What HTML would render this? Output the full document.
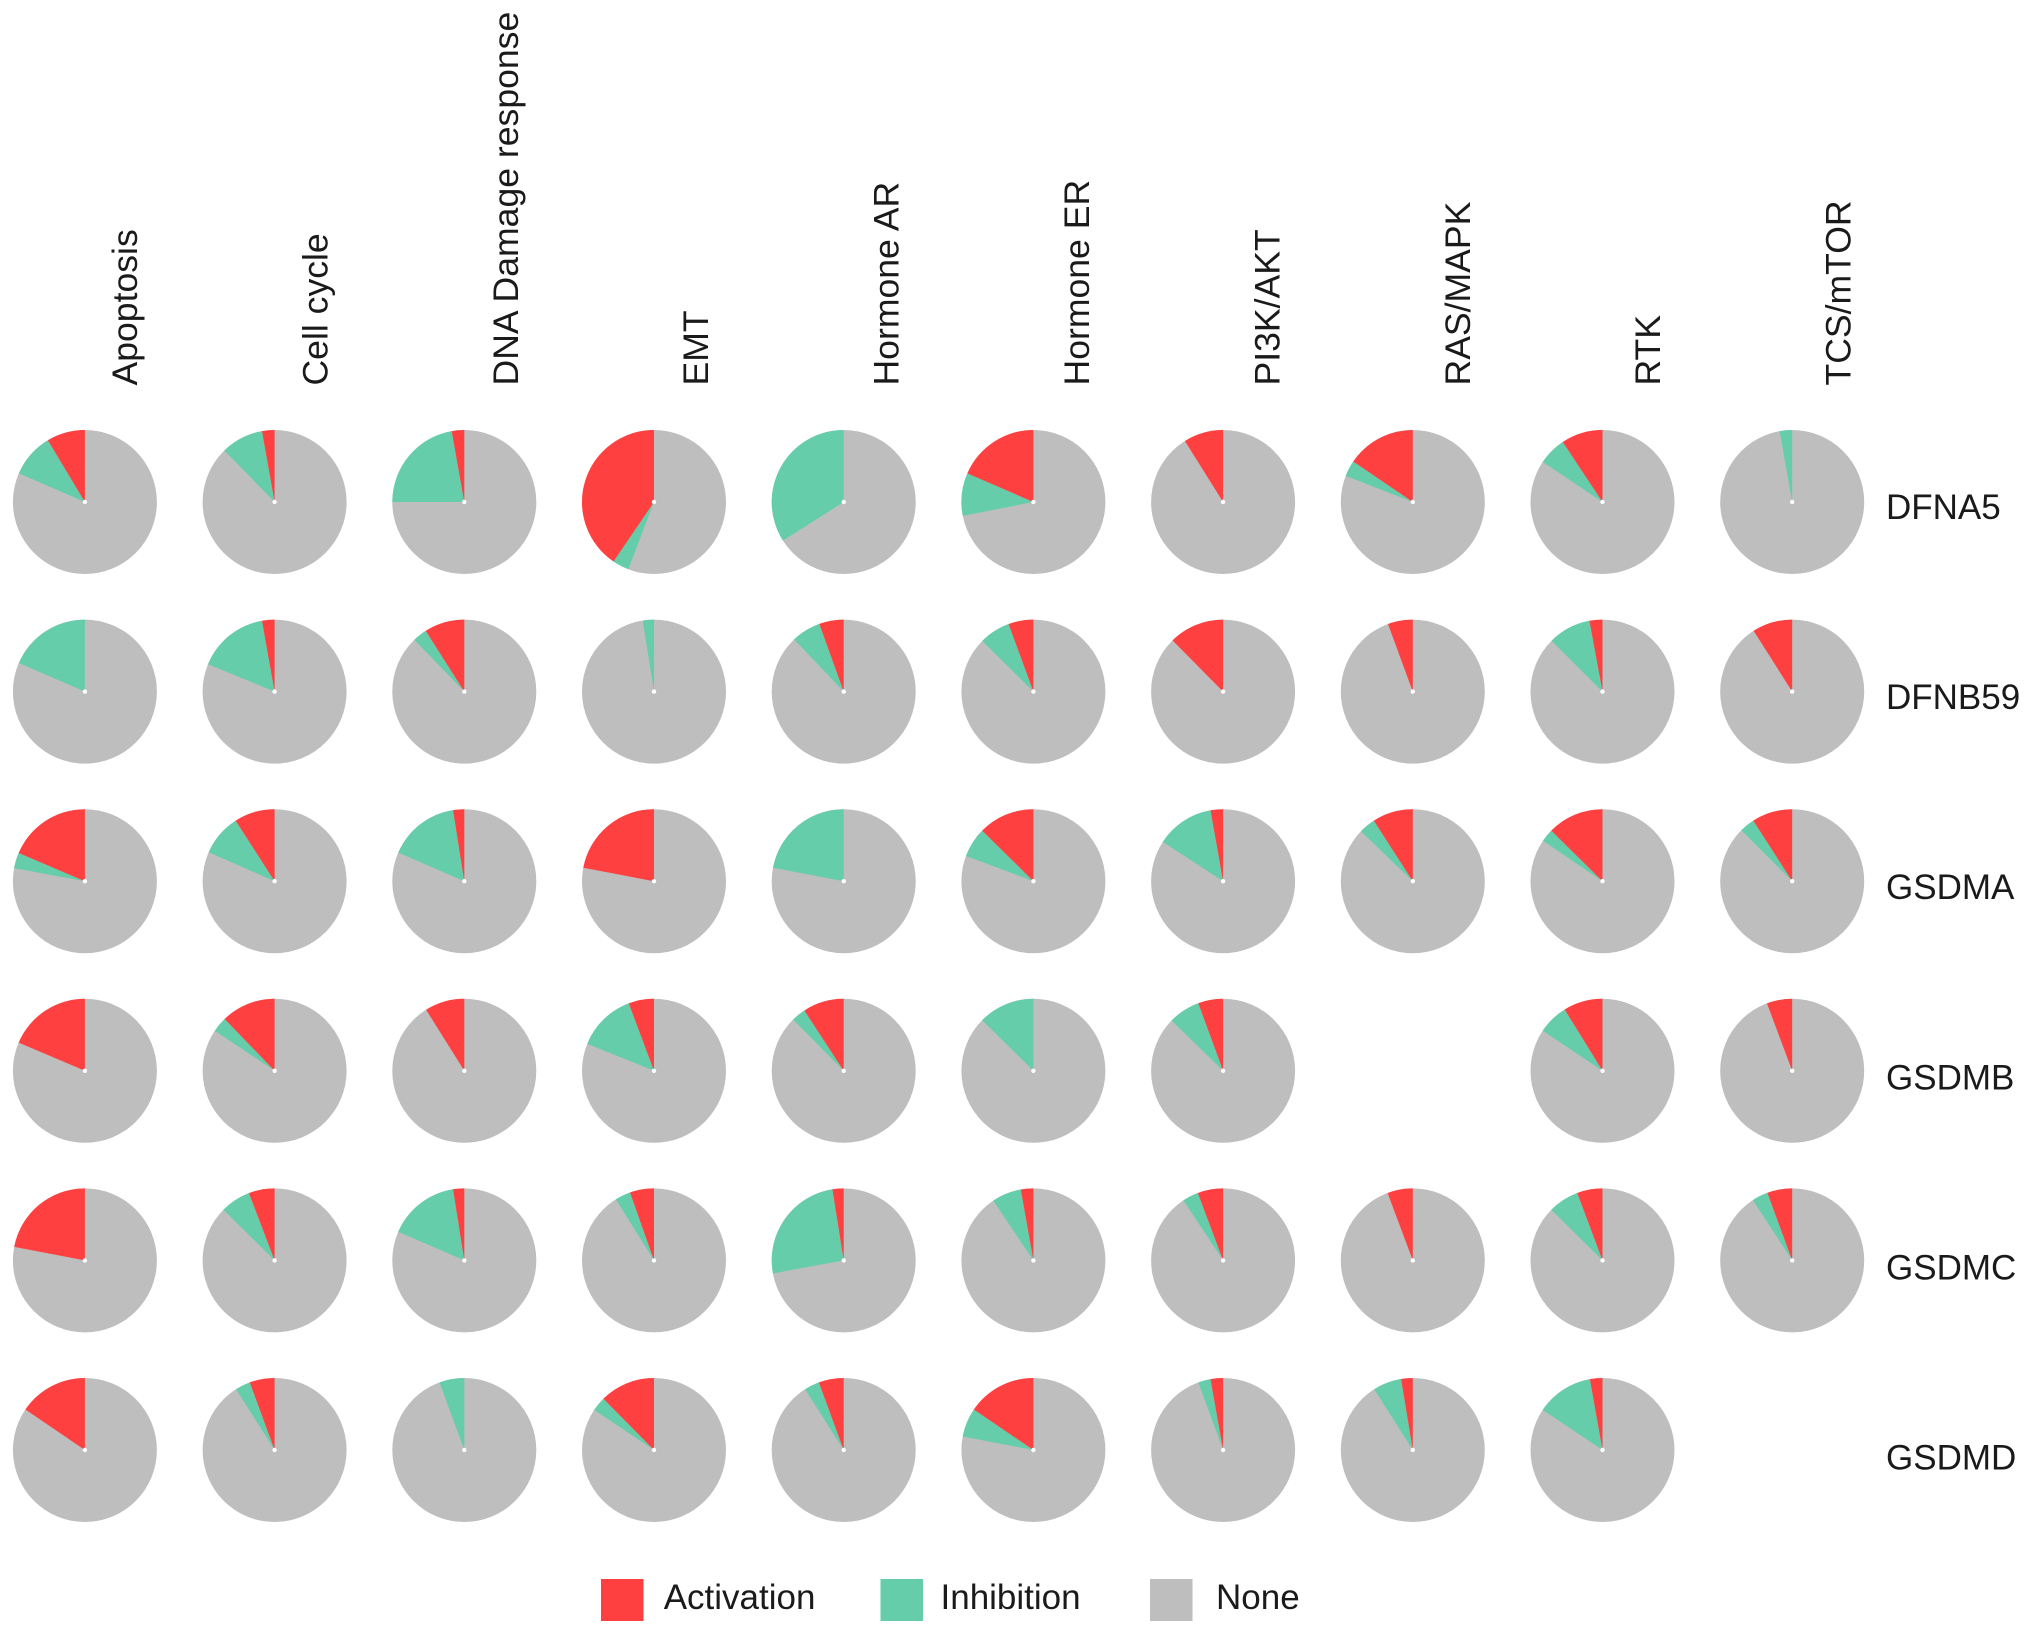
<!DOCTYPE html>
<html lang="en">
<head>
<meta charset="utf-8">
<title>Pathway activity pie matrix</title>
<style>
  html, body { margin: 0; padding: 0; background: #ffffff; }
  #chart { display: block; }
  text { font-family: "Liberation Sans", Arial, sans-serif; fill: #1a1a1a; }
</style>
</head>
<body>
<svg id="chart" xmlns="http://www.w3.org/2000/svg" width="2032" height="1639" viewBox="0 0 2032 1639">
  <rect x="0" y="0" width="2032" height="1639" fill="#ffffff"></rect>
  <g id="column-labels"></g>
  <g id="row-labels"></g>
  <g id="pies"></g>
  <g id="legend"></g>
</svg>
<script>
// Categories
const pathways = ["Apoptosis", "Cell cycle", "DNA Damage response", "EMT", "Hormone AR", "Hormone ER", "PI3K/AKT", "RAS/MAPK", "RTK", "TCS/mTOR"];
const genes = ["DFNA5", "DFNB59", "GSDMA", "GSDMB", "GSDMC", "GSDMD"];
const legendLabels = ["Activation", "Inhibition", "None"];

// Percent of genes per gene × pathway; null marks a combination with no pie
const activation = [
  [8.6, 2.8, 2.8, 40.5, 0, 18.5, 8.9, 15.5, 9.3, 0],
  [0, 2.8, 9, 0, 5.5, 5.6, 12.4, 5.6, 2.9, 9],
  [18.6, 9.1, 2.5, 22, 0, 12.6, 2.8, 9.1, 12.6, 9.1],
  [18.6, 12.2, 8.9, 5.7, 9.2, 0, 5.6, null, 8.8, 5.7],
  [22, 5.8, 2.5, 5.4, 2.5, 2.8, 5.7, 5.7, 5.7, 5.6],
  [15.5, 5.6, 0, 12.4, 5.6, 15.5, 2.8, 2.6, 2.8, null]
];
const inhibition = [
  [9.9, 9.5, 22.2, 3.7, 34, 9.6, 0, 3.6, 6.3, 2.8],
  [18.5, 16, 3.2, 2.5, 6.6, 7, 0, 0, 9.6, 0],
  [3.5, 9.3, 16, 0, 22, 6.7, 13, 3.7, 2.9, 3.4],
  [0, 3.4, 0, 13.2, 3.2, 12.6, 7.1, null, 6.8, 0],
  [0, 6.8, 16, 3.5, 25.4, 6.6, 3.6, 0, 6.9, 3.6],
  [0, 3.4, 5.6, 3.2, 3.4, 6.5, 2.8, 6.4, 12.8, null]
];

// Styling and layout
const SVG_NS = "http://www.w3.org/2000/svg";
const COLORS = { activation: "#FF4040", inhibition: "#66CDAA", none: "#BEBEBE" };
const PIE_RADIUS = 72;
const HOLE_RADIUS = 2.2;
const FONT_SIZE = 35;
const COLUMN_FONT_SIZE = 35.6;

function xScale(col) { return 84.9 + col * 189.7; }
function yScale(row) { return 502 + row * 189.6; }
function labelX(col) { return 137 + col * 190.4; }
function rowLabelY(row) { return 519 + row * 190.1; }
function angleScale(percent) { return percent / 100 * 2 * Math.PI; }

function make(tag, attrs) {
  const el = document.createElementNS(SVG_NS, tag);
  for (const key in attrs) el.setAttribute(key, attrs[key]);
  return el;
}

// Wedge running counter-clockwise from `startPct` to `endPct`, measured from 12 o'clock
function wedgePath(cx, cy, r, startPct, endPct) {
  const a0 = angleScale(startPct);
  const a1 = angleScale(endPct);
  const x0 = cx - r * Math.sin(a0);
  const y0 = cy - r * Math.cos(a0);
  const x1 = cx - r * Math.sin(a1);
  const y1 = cy - r * Math.cos(a1);
  const large = endPct - startPct > 50 ? 1 : 0;
  return "M" + cx + " " + cy + "L" + x0 + " " + y0 + "A" + r + " " + r + " 0 " + large + " 0 " + x1 + " " + y1 + "Z";
}

const pieLayer = document.getElementById("pies");
genes.forEach(function (gene, row) {
  pathways.forEach(function (pathway, col) {
    const act = activation[row][col];
    const inh = inhibition[row][col];
    if (act === null || inh === null) return;
    const cx = xScale(col);
    const cy = yScale(row);

    const group = make("g", {});
    
    

    const noneSlice = make("circle", { cx: cx, cy: cy, r: PIE_RADIUS, fill: COLORS.none });
    
    
    group.appendChild(noneSlice);

    if (inh > 0) {
      const inhSlice = make("path", { d: wedgePath(cx, cy, PIE_RADIUS, act, act + inh), fill: COLORS.inhibition });
      
      
      group.appendChild(inhSlice);
    }
    if (act > 0) {
      const actSlice = make("path", { d: wedgePath(cx, cy, PIE_RADIUS, 0, act), fill: COLORS.activation });
      
      
      group.appendChild(actSlice);
    }

    const hole = make("circle", { cx: cx, cy: cy, r: HOLE_RADIUS, fill: "#ffffff" });
    
    
    group.appendChild(hole);

    pieLayer.appendChild(group);
  });
});

const columnLayer = document.getElementById("column-labels");
pathways.forEach(function (pathway, col) {
  const x = labelX(col);
  const label = make("text", { x: x, y: 385.5, "font-size": COLUMN_FONT_SIZE, transform: "rotate(-90 " + x + " 385.5)" });
  
  
  label.textContent = pathway;
  columnLayer.appendChild(label);
});

const rowLayer = document.getElementById("row-labels");
genes.forEach(function (gene, row) {
  const label = make("text", { x: 1886, y: rowLabelY(row), "font-size": FONT_SIZE });
  
  
  label.textContent = gene;
  rowLayer.appendChild(label);
});

const legendLayer = document.getElementById("legend");
const legendColors = [COLORS.activation, COLORS.inhibition, COLORS.none];
const legendSwatchX = [601, 880.5, 1150];
const legendTextX = [663.7, 940.5, 1216];
legendLabels.forEach(function (name, i) {
  const entry = make("g", {});
  
  

  const swatch = make("rect", { x: legendSwatchX[i], y: 1579, width: 42.5, height: 42, fill: legendColors[i] });
  
  
  entry.appendChild(swatch);

  const text = make("text", { x: legendTextX[i], y: 1609, "font-size": FONT_SIZE });
  
  
  text.textContent = name;
  entry.appendChild(text);

  legendLayer.appendChild(entry);
});
</script>
</body>
</html>
